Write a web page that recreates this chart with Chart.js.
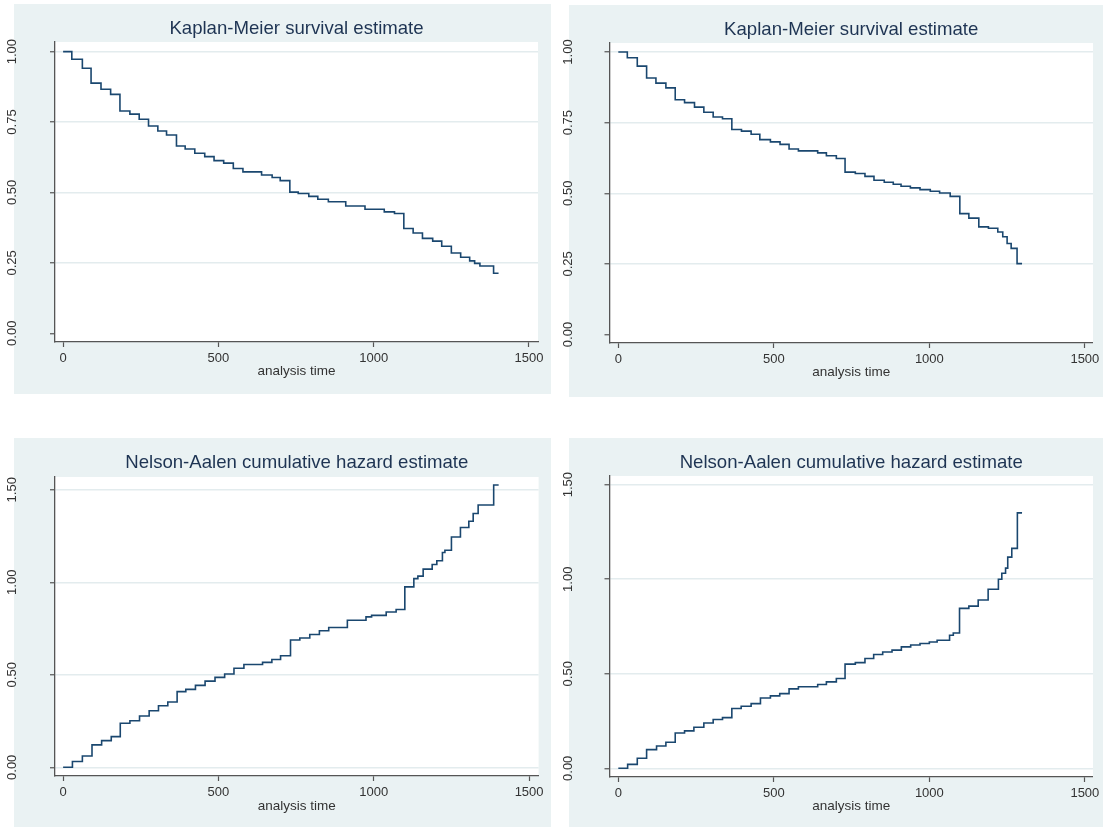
<!DOCTYPE html>
<html>
<head>
<meta charset="utf-8">
<title>Kaplan-Meier and Nelson-Aalen estimates</title>
<script src="https://cdn.jsdelivr.net/npm/chart.js@4.4.1/dist/chart.umd.min.js"></script>
<style>
  body { margin: 0; background: #fff; }
  #wrap { position: relative; width: 1103px; height: 827px; overflow: hidden; }
  canvas { position: absolute; }
</style>
</head>
<body>
<div id="wrap">
  <canvas id="kmLeft" width="551" height="400" style="left:0;top:0;width:551px;height:400px"></canvas>
  <canvas id="kmRight" width="550" height="400" style="left:553px;top:0;width:550px;height:400px"></canvas>
  <canvas id="naLeft" width="551" height="417" style="left:0;top:410px;width:551px;height:417px"></canvas>
  <canvas id="naRight" width="550" height="417" style="left:553px;top:410px;width:550px;height:417px"></canvas>
</div>
<script>
// step points: time where the curve jumps, value after the jump
const kmTimesA = [0, 28, 62, 90, 122, 153, 183, 215, 245, 275, 305, 333, 365, 393, 424, 456, 486, 517, 548, 579,
  639, 673, 699, 730, 757, 791, 820, 854, 910, 972, 1034, 1067, 1097, 1127, 1157, 1190, 1219, 1250, 1280, 1309,
  1325, 1342, 1386, 1402];
const kmSurvA = [1, 0.973, 0.941, 0.888, 0.866, 0.848, 0.789, 0.778, 0.760, 0.736, 0.718, 0.704, 0.665, 0.654, 0.639,
  0.627, 0.613, 0.604, 0.585, 0.573, 0.562, 0.553, 0.542, 0.501, 0.496, 0.486, 0.476, 0.467, 0.452, 0.440, 0.431,
  0.425, 0.372, 0.356, 0.337, 0.327, 0.309, 0.285, 0.270, 0.257, 0.248, 0.239, 0.213, 0.213];

const kmTimesB = [0, 29, 61, 91, 121, 153, 183, 213, 245, 275, 305, 335, 365, 396, 427, 455, 489, 520, 549, 579,
  641, 669, 701, 729, 762, 793, 822, 855, 884, 909, 939, 970, 1003, 1033, 1067, 1098, 1127, 1159, 1190, 1220,
  1236, 1250, 1263, 1282, 1298];
const kmSurvB = [1, 0.980, 0.950, 0.908, 0.890, 0.873, 0.831, 0.821, 0.805, 0.787, 0.770, 0.764, 0.726, 0.720, 0.709,
  0.690, 0.682, 0.673, 0.657, 0.650, 0.643, 0.633, 0.623, 0.575, 0.570, 0.560, 0.546, 0.539, 0.532, 0.525, 0.519,
  0.513, 0.507, 0.501, 0.489, 0.428, 0.412, 0.381, 0.376, 0.363, 0.346, 0.322, 0.305, 0.251, 0.251];

const naTimesA = [0, 30, 62, 93, 124, 155, 184, 215, 246, 277, 307, 337, 367, 395, 426, 457, 489, 520, 550, 582,
  642, 672, 700, 732, 762, 794, 825, 855, 915, 975, 993, 1040, 1072, 1100, 1129, 1142, 1159, 1188, 1203, 1221,
  1229, 1250, 1279, 1306, 1320, 1336, 1386, 1402];
const naHazA = [0, 0.031, 0.061, 0.121, 0.144, 0.166, 0.238, 0.252, 0.277, 0.306, 0.333, 0.353, 0.409, 0.421, 0.443,
  0.466, 0.486, 0.504, 0.535, 0.556, 0.567, 0.583, 0.603, 0.688, 0.699, 0.718, 0.738, 0.756, 0.795, 0.813, 0.821,
  0.839, 0.853, 0.975, 1.020, 1.033, 1.071, 1.096, 1.116, 1.161, 1.173, 1.245, 1.296, 1.330, 1.372, 1.418, 1.526, 1.526];

const naTimesB = [0, 30, 61, 91, 123, 153, 183, 213, 243, 275, 305, 335, 365, 395, 427, 457, 489, 519, 549, 579,
  641, 669, 701, 729, 762, 793, 821, 850, 880, 910, 940, 970, 1000, 1025, 1065, 1077, 1097, 1127, 1157, 1189,
  1222, 1233, 1245, 1252, 1265, 1283, 1298];
const naHazB = [0, 0.021, 0.053, 0.099, 0.118, 0.138, 0.187, 0.198, 0.217, 0.240, 0.258, 0.268, 0.316, 0.328, 0.342,
  0.372, 0.383, 0.395, 0.420, 0.431, 0.443, 0.457, 0.475, 0.551, 0.559, 0.581, 0.602, 0.615, 0.625, 0.642, 0.652,
  0.660, 0.668, 0.677, 0.704, 0.716, 0.846, 0.858, 0.890, 0.947, 1.000, 1.032, 1.059, 1.117, 1.163, 1.351, 1.351];

const xTickValues = [0, 500, 1000, 1500];
const kmTickValues = [0, 0.25, 0.5, 0.75, 1];
const naTickValues = [0, 0.5, 1, 1.5];

const kmTitle = "Kaplan-Meier survival estimate";
const naTitle = "Nelson-Aalen cumulative hazard estimate";
const xAxisTitle = "analysis time";

const FONT = '"Liberation Sans", Arial, Helvetica, sans-serif';
const NAVY = "#1a476f";
const AXIS = "#555";
const TITLE_SIZE = 18.6;

// grey-blue panel and white plot region
const panelBg = {
  id: "panelBg",
  beforeDraw(chart, args, opts) {
    const ctx = chart.ctx;
    const a = chart.chartArea;
    ctx.save();
    ctx.fillStyle = "#eaf2f3";
    ctx.fillRect(opts.box[0], opts.box[1], opts.box[2], opts.box[3]);
    ctx.fillStyle = "#ffffff";
    ctx.fillRect(a.left, a.top, a.right - a.left, a.bottom - a.top);
    ctx.restore();
  }
};

// stata writes the y labels turned on their side
const yLabels = {
  id: "yLabels",
  afterDraw(chart, args, opts) {
    const s = chart.scales.y;
    const ctx = chart.ctx;
    ctx.save();
    ctx.fillStyle = "#333";
    ctx.font = "13px " + FONT;
    ctx.textAlign = "center";
    ctx.textBaseline = "middle";
    s.ticks.forEach((t) => {
      ctx.save();
      ctx.translate(opts.x, s.getPixelForValue(t.value));
      ctx.rotate(-Math.PI / 2);
      ctx.fillText(t.value.toFixed(2), 0, 0);
      ctx.restore();
    });
    ctx.restore();
  }
};

function drawPanel(id, times, values, yTicks, yMin, yMax, title, place) {
  const canvas = document.getElementById(id);
  const W = canvas.width;
  const H = canvas.height;
  const pts = times.map((t, i) => ({ x: t, y: values[i] }));
  const half = TITLE_SIZE * 0.6;

  new Chart(canvas, {
    type: "line",
    data: {
      datasets: [
        {
          data: pts,
          borderColor: NAVY,
          borderWidth: 1.6,
          pointRadius: 0,
          stepped: true,
          fill: false,
        },
      ],
    },
    options: {
      responsive: false,
      animation: false,
      events: [],
      layout: { padding: { left: 0, top: 0, right: W - place.right, bottom: 0 } },
      plugins: {
        legend: { display: false },
        tooltip: { enabled: false },
        title: {
          display: true,
          text: title,
          fullSize: false,
          color: "#1e3453",
          font: { family: FONT, size: TITLE_SIZE, weight: "normal", lineHeight: 1.2 },
          padding: { top: place.titleY - half, bottom: place.top - place.titleY - half },
        },
        panelBg: { box: place.bg },
        yLabels: { x: place.labelX },
      },
      scales: {
        x: {
          type: "linear",
          min: place.xMin,
          max: place.xMax,
          afterBuildTicks: (s) => {
            s.ticks = xTickValues.map((v) => ({ value: v }));
          },
          afterFit: (s) => {
            s.height = H - place.bottom;
          },
          grid: { drawOnChartArea: false, drawTicks: true, tickLength: 5, tickColor: AXIS, tickWidth: 1.2 },
          border: { display: true, color: AXIS, width: 1.3 },
          ticks: {
            autoSkip: false,
            maxRotation: 0,
            padding: 3.5,
            color: "#333",
            font: { family: FONT, size: 13 },
            callback: (v) => String(v),
          },
          title: {
            display: true,
            text: xAxisTitle,
            color: "#333",
            font: { family: FONT, size: 13.5, lineHeight: 1.2 },
            padding: { top: 0, bottom: place.xTitlePad },
          },
        },
        y: {
          min: yMin,
          max: yMax,
          afterBuildTicks: (s) => {
            s.ticks = yTicks.map((v) => ({ value: v }));
          },
          afterFit: (s) => {
            s.width = place.left;
          },
          grid: {
            color: (c) => (place.noZeroGrid && c.tick && c.tick.value === 0 ? "rgba(0,0,0,0)" : "#e3ecee"),
            lineWidth: 1.5,
            drawTicks: true,
            tickLength: 5,
            tickColor: AXIS,
            tickWidth: 1.2,
          },
          border: { display: true, color: AXIS, width: 1.3 },
          ticks: { display: false },
        },
      },
    },
    plugins: [panelBg, yLabels],
  });
}

drawPanel("kmLeft", kmTimesA, kmSurvA, kmTickValues, -0.031, 1.034, kmTitle, {
  left: 55, top: 42, right: 538, bottom: 342, titleY: 29, labelX: 12.3, xTitlePad: 20.9,
  xMin: -26.1, xMax: 1529, bg: [14, 4, 537, 390], noZeroGrid: true,
});
drawPanel("kmRight", kmTimesB, kmSurvB, kmTickValues, -0.030, 1.032, kmTitle, {
  left: 56.5, top: 43, right: 540.4, bottom: 343, titleY: 30, labelX: 15.4, xTitlePad: 19.2,
  xMin: -28.3, xMax: 1526, bg: [16, 5, 534, 392], noZeroGrid: true,
});
drawPanel("naLeft", naTimesA, naHazA, naTickValues, -0.047, 1.569, naTitle, {
  left: 55, top: 67, right: 538.6, bottom: 366, titleY: 53, labelX: 12.3, xTitlePad: 12.9,
  xMin: -26.1, xMax: 1530.6, bg: [14, 28, 537, 389], noZeroGrid: false,
});
drawPanel("naRight", naTimesB, naHazB, naTickValues, -0.046, 1.546, naTitle, {
  left: 56.5, top: 66, right: 540.4, bottom: 367, titleY: 53, labelX: 15.4, xTitlePad: 12.2,
  xMin: -28.3, xMax: 1526, bg: [16, 28, 534, 389], noZeroGrid: false,
});
</script>
</body>
</html>
